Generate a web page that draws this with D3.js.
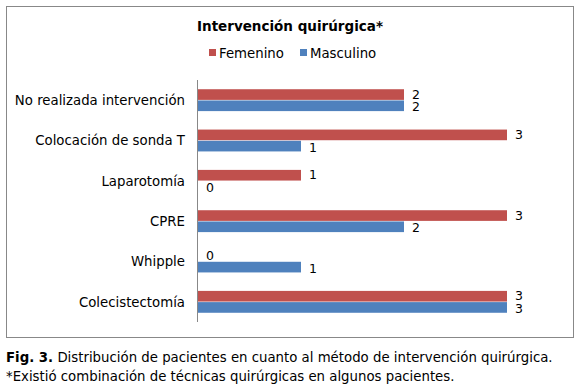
<!DOCTYPE html>
<html>
<head>
<meta charset="utf-8">
<title>Intervención quirúrgica</title>
<script src="https://d3js.org/d3.v7.min.js"></script>
<style type="text/css">
  body { margin: 0; background: #fff; }
  svg text { font-family: "DejaVu Sans", Verdana, sans-serif; fill: #000; }
  .title { font-size: 13.5px; font-weight: bold; }
  .cat, .legend { font-size: 13.3px; }
  .val { font-size: 12.5px; }
  .caption { font-size: 13.3px; }
</style>
<script type="text/javascript">

  var categories = ["No realizada intervención", "Colocación de sonda T", "Laparotomía",
                    "CPRE", "Whipple", "Colecistectomía"];
  var series = ["Femenino", "Masculino"];
  var femenino = [2, 3, 1, 3, 0, 3];
  var masculino = [2, 1, 0, 2, 1, 3];
  var colors = ["#C0504D", "#4F81BD"];

  function draw() {
    var svg = d3.select("body").append("svg")
                .attr("width", 580)
                .attr("height", 385);

    // chart frame
    svg.append("rect")
       .attr("x", 6.5).attr("y", 6.5)
       .attr("width", 567).attr("height", 331)
       .attr("fill", "#fff")
       .attr("stroke", "#888")
       .attr("stroke-width", 1);

    svg.append("text")
       .attr("class", "title")
       .attr("x", 290).attr("y", 31)
       .attr("text-anchor", "middle")
       .text("Intervención quirúrgica*");

    // legend
    var legendX = [209, 300];
    var lg = svg.selectAll("g.legend")
       .data(series)
       .enter().append("g")
       .attr("class", "legend")
       .attr("transform", function(d, i) { return "translate(" + legendX[i] + ",49)"; });
    lg.append("rect")
      .attr("width", 7).attr("height", 7)
      .attr("fill", function(d, i) { return colors[i]; });
    lg.append("text")
      .attr("x", 10).attr("y", 8.5)
      .text(function(d) { return d; });

    var x = d3.scaleLinear().domain([0, 3]).range([198, 507]);
    var y = d3.scaleBand().domain(categories).range([80, 322])
              .paddingInner(0.43).paddingOuter(0.215);
    var ys = d3.scaleBand().domain(series).range([0, y.bandwidth()]).padding(0.05);

    var rows = categories.map(function(c, i) {
      return { cat: c, vals: [femenino[i], masculino[i]] };
    });

    var g = svg.selectAll("g.row")
       .data(rows)
       .enter().append("g")
       .attr("class", "row")
       .attr("transform", function(d) { return "translate(0," + y(d.cat) + ")"; });

    var bars = g.selectAll("g.bar")
       .data(function(d) { return d.vals.map(function(v, i) { return { s: series[i], v: v, i: i }; }); })
       .enter().append("g");

    bars.append("rect")
        .attr("x", x(0))
        .attr("y", function(d) { return ys(d.s); })
        .attr("width", function(d) { return x(d.v) - x(0); })
        .attr("height", ys.bandwidth())
        .attr("fill", function(d) { return colors[d.i]; });

    // labels nudged apart a little so the pair does not collide
    bars.append("text")
        .attr("class", "val")
        .attr("x", function(d) { return x(d.v) + 8; })
        .attr("y", function(d) { return ys(d.s) + ys.bandwidth() / 2 + (d.i === 0 ? -0.5 : 1); })
        .attr("dy", "0.36em")
        .text(function(d) { return d.v; });

    // category labels
    svg.selectAll("text.cat")
       .data(categories)
       .enter().append("text")
       .attr("class", "cat")
       .attr("x", 185)
       .attr("y", function(d) { return y(d) + y.bandwidth() / 2; })
       .attr("dy", "0.36em")
       .attr("text-anchor", "end")
       .text(function(d) { return d; });

    // vertical axis line
    svg.append("line")
       .attr("x1", x(0) - 0.5).attr("x2", x(0) - 0.5)
       .attr("y1", 80).attr("y2", 322)
       .attr("stroke", "#888");

    // caption
    var cap1 = svg.append("text").attr("class", "caption")
       .attr("x", 6).attr("y", 362);
    cap1.append("tspan").attr("font-weight", "bold").text("Fig. 3.");
    cap1.append("tspan").text(" Distribución de pacientes en cuanto al método de intervención quirúrgica.");
    svg.append("text").attr("class", "caption")
       .attr("x", 6).attr("y", 381)
       .text("*Existió combinación de técnicas quirúrgicas en algunos pacientes.");
  }

  window.onload = draw;
</script>
</head>
<body>
</body>
</html>
